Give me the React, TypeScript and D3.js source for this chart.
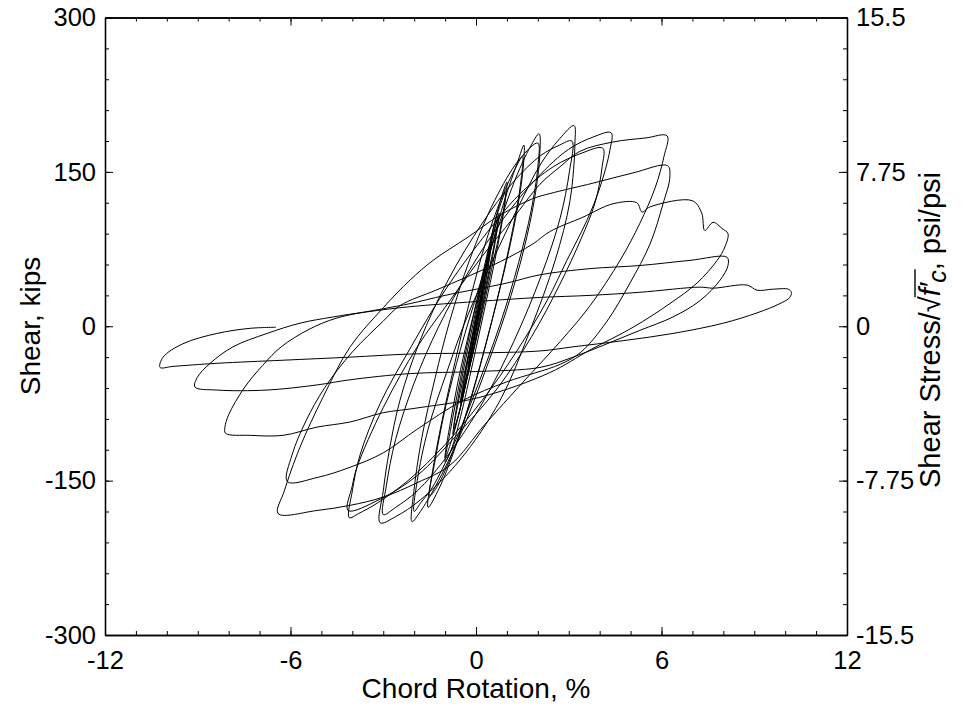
import React, { useEffect, useRef } from 'react';
import * as d3 from 'd3';

// Axis ticks / labels
const X_TICKS = [-12, -6, 0, 6, 12];
const Y_TICKS = [-300, -150, 0, 150, 300];
const Y2_TICKS = [-15.5, -7.75, 0, 7.75, 15.5];
const Y2_LABELS = ['-15.5', '-7.75', '0', '7.75', '15.5'];

// Hysteresis response, [chord rotation %, shear kips], by drift level (two cycles each)
const loop025 = [[0,0],[0.12,22],[0.27,45],[0.15,22],[0,0],[-0.12,-20],[-0.25,-40],[-0.12,-18],[0.02,3],[0.14,24],[0.26,43],[0.12,18],[-0.02,-4],[-0.14,-22],[-0.26,-40]];
const loop05 = [[-0.15,-18],[0,5],[0.2,35],[0.35,57],[0.5,80],[0.38,55],[0.18,22],[-0.02,-8],[-0.2,-35],[-0.36,-55],[-0.5,-75],[-0.35,-48],[-0.15,-15],[0.05,15],[0.25,45],[0.48,77],[0.32,47],[0.1,12],[-0.12,-22],[-0.32,-50],[-0.5,-73]];
const loop075 = [[-0.35,-45],[-0.1,-5],[0.15,35],[0.4,70],[0.6,95],[0.75,110],[0.62,85],[0.38,48],[0.1,5],[-0.2,-38],[-0.45,-72],[-0.62,-92],[-0.75,-105],[-0.58,-75],[-0.3,-35],[0,5],[0.3,50],[0.55,88],[0.72,105],[0.6,78],[0.32,35],[0.02,-10],[-0.3,-52],[-0.55,-85],[-0.72,-100]];
const loop10 = [[-0.55,-65],[-0.25,-20],[0.1,30],[0.45,80],[0.75,118],[1.0,140],[0.9,112],[0.65,70],[0.3,20],[-0.1,-35],[-0.5,-88],[-0.8,-120],[-1.0,-132],[-0.82,-100],[-0.5,-50],[-0.1,8],[0.3,62],[0.68,108],[0.95,130],[0.82,100],[0.5,55],[0.12,2],[-0.3,-52],[-0.7,-102],[-1.0,-128]];
const loop15 = [[-0.82,-92],[-0.5,-42],[-0.05,15],[0.45,72],[0.95,125],[1.35,160],[1.55,176],[1.52,152],[1.3,108],[0.9,52],[0.4,-8],[-0.15,-68],[-0.72,-122],[-1.2,-158],[-1.55,-176],[-1.4,-140],[-1.1,-92],[-0.68,-35],[-0.2,25],[0.35,85],[0.9,130],[1.3,155],[1.5,165],[1.44,138],[1.18,93],[0.78,38],[0.28,-22],[-0.28,-82],[-0.88,-132],[-1.28,-157],[-1.5,-165]];
const loop20 = [[-1.32,-130],[-0.98,-78],[-0.5,-22],[0.1,38],[0.7,95],[1.3,145],[1.75,174],[2.04,187],[2.06,165],[1.9,125],[1.55,75],[0.98,15],[0.28,-45],[-0.5,-105],[-1.3,-155],[-1.8,-180],[-2.07,-190],[-2.0,-158],[-1.75,-108],[-1.32,-50],[-0.85,5],[-0.2,65],[0.6,122],[1.4,162],[2.0,178],[2.0,155],[1.78,112],[1.38,62],[0.78,2],[0.05,-58],[-0.72,-115],[-1.42,-157],[-1.8,-172],[-2.0,-180]];
const loop30 = [[-1.9,-150],[-1.55,-100],[-0.95,-45],[-0.25,12],[0.6,68],[1.4,118],[2.1,158],[2.7,182],[3.17,195],[3.2,178],[3.04,122],[2.56,64],[1.75,-4],[0.78,-72],[-0.52,-130],[-1.81,-169],[-2.6,-185],[-3.1,-191],[-3.0,-160],[-2.8,-120],[-2.46,-72],[-1.81,-14],[-0.9,45],[0.2,100],[1.2,140],[2.1,166],[2.7,176],[3.1,180],[3.02,150],[2.72,105],[2.12,50],[1.22,-15],[0.2,-75],[-0.9,-125],[-1.9,-160],[-2.6,-176],[-3.0,-183]];
const loop40 = [[-2.9,-155],[-2.6,-110],[-2.0,-55],[-1.2,0],[-0.2,55],[0.9,105],[2.0,145],[3.0,172],[3.8,184],[4.37,188],[4.33,171],[4.01,135],[3.59,103],[2.94,64],[2.3,25],[1.3,-25],[0.2,-72],[-1.0,-115],[-2.2,-150],[-3.2,-172],[-3.8,-182],[-4.1,-186],[-4.0,-160],[-3.75,-125],[-3.1,-75],[-2.1,-20],[-1.0,35],[0.2,85],[1.4,128],[2.5,155],[3.4,168],[4.1,173],[4.08,155],[3.85,120],[3.4,85],[2.7,40],[1.8,-10],[0.7,-60],[-0.6,-105],[-1.9,-145],[-3.1,-168],[-4.14,-179]];
const loop60 = [[-4.0,-155],[-3.85,-137],[-3.0,-79],[-1.9,-20],[-0.84,25],[0.2,68],[1.2,105],[2.07,138],[2.72,155],[3.36,170],[4.43,179],[5.5,183],[6.18,185],[6.08,165],[5.8,135],[5.3,100],[4.66,64],[3.69,20],[2.72,-15],[1.5,-55],[0.3,-95],[-0.84,-135],[-1.9,-152],[-3.0,-166],[-4.07,-174],[-5.14,-179],[-6.4,-182],[-6.2,-160],[-5.7,-118],[-4.95,-69],[-4.07,-20],[-3.0,18],[-2.13,45],[-1.39,64],[-0.29,86],[0.78,108],[1.84,124],[2.4,129],[3.78,139],[5.08,149],[6.2,156],[6.27,145],[6.05,119],[5.63,80],[4.98,42],[4.24,5],[3.4,-25],[2.72,-37],[1.0,-54],[-0.42,-72],[-1.9,-100],[-3.0,-123],[-4.07,-137],[-5.14,-147],[-6.1,-151]];
const loop80 = [[-5.95,-125],[-5.5,-92],[-4.9,-60],[-4.0,-25],[-3.0,5],[-2.46,20],[-1.3,35],[-0.29,48],[0.8,63],[1.84,80],[2.39,92],[3.46,106],[4.43,119],[5.2,120],[5.37,111],[5.63,116],[7.0,122],[7.3,110],[7.4,93],[7.67,101],[7.96,95],[8.15,90],[8.05,77],[7.8,64],[7.15,42],[6.27,22],[5.08,-1],[3.69,-23],[2.39,-45],[0.13,-69],[-2.04,-80],[-3.0,-84],[-4.07,-93],[-5.14,-98],[-6.24,-106],[-7.3,-106],[-8.1,-104],[-8.12,-98],[-8.0,-86],[-7.5,-60],[-6.9,-38],[-6.3,-20],[-5.4,-3],[-4.5,8],[-3.0,17],[-2.13,22],[-1.0,30],[1.0,42],[2.07,50],[3.69,56],[5.3,59],[6.92,64],[8.12,67],[8.15,59],[7.9,45],[7.25,25],[6.37,9],[5.3,-4],[4.24,-17],[3.14,-30],[2.07,-40],[0,-44],[-2.13,-46],[-4.07,-52],[-5.14,-57],[-6.76,-62],[-8.38,-62],[-9.09,-59]];
const loop100 = [[-9.02,-50],[-8.6,-36],[-7.86,-20],[-6.76,-7],[-5.69,3],[-4.63,9],[-3.53,14],[-2.13,19],[0,24],[2.07,28],[3.69,30],[5.3,33],[7.25,38],[7.67,37],[8.77,40],[9.09,35],[9.6,36],[10.1,36],[10.2,33],[10.15,28],[9.83,22],[9.09,13],[8.0,3],[6.37,-7],[4.76,-14],[3.14,-20],[2.07,-24],[0,-26],[-2.13,-27],[-4.07,-30],[-6.24,-33],[-8.38,-36],[-9.8,-39],[-10.22,-40],[-10.12,-30],[-9.48,-17],[-8.38,-7],[-7.3,-2],[-6.47,-1]];

const CYCLES = [loop025, loop05, loop075, loop10, loop15, loop20, loop30, loop40, loop60, loop80, loop100];

const FONT = "'Liberation Sans', Arial, Helvetica, sans-serif";

export default function App() {
  const ref = useRef<SVGSVGElement>(null);

  useEffect(() => {
    const svg = d3.select(ref.current as SVGSVGElement);
    svg.selectAll('*').remove();

    const L = 105, R = 847, T = 17.5, B = 635;
    const x = d3.scaleLinear().domain([-12, 12]).range([L, R]);
    const y = d3.scaleLinear().domain([-300, 300]).range([B, T]);
    const y2 = d3.scaleLinear().domain([-15.5, 15.5]).range([B, T]);

    const pts = CYCLES.flat() as [number, number][];
    const line = d3.line<[number, number]>()
      .x(d => x(d[0]))
      .y(d => y(d[1]))
      .curve(d3.curveCatmullRom.alpha(0.5));

    svg.append('path')
      .attr('d', line(pts) || '')
      .attr('fill', 'none')
      .attr('stroke', '#000')
      .attr('stroke-width', 1)
      .attr('stroke-linejoin', 'round');

    const style = (g: any) => {
      g.select('.domain').attr('stroke', '#000').attr('stroke-width', 1.3);
      g.selectAll('.tick line').attr('stroke', '#000').attr('stroke-width', 1);
      g.selectAll('text').attr('font-family', FONT).attr('font-size', 25.5).attr('fill', '#000');
    };

    const minorX = d3.range(-12, 12.001, 1);
    const minorY = d3.range(-300, 300.001, 30);

    // bottom
    svg.append('g').attr('transform', `translate(0,${B})`)
      .call(d3.axisBottom(x).tickValues(minorX).tickSize(-4).tickSizeOuter(0).tickFormat(() => ''))
      .call(style);
    svg.append('g').attr('transform', `translate(0,${B})`)
      .call(d3.axisBottom(x).tickValues(X_TICKS).tickSize(-8).tickSizeOuter(0).tickPadding(16).tickFormat(d => String(d)))
      .call(style);
    // top
    svg.append('g').attr('transform', `translate(0,${T})`)
      .call(d3.axisTop(x).tickValues(minorX).tickSize(-4).tickSizeOuter(0).tickFormat(() => ''))
      .call(style);
    svg.append('g').attr('transform', `translate(0,${T})`)
      .call(d3.axisTop(x).tickValues(X_TICKS).tickSize(-8).tickSizeOuter(0).tickFormat(() => ''))
      .call(style);
    // left
    svg.append('g').attr('transform', `translate(${L},0)`)
      .call(d3.axisLeft(y).tickValues(minorY).tickSize(-4).tickSizeOuter(0).tickFormat(() => ''))
      .call(style);
    svg.append('g').attr('transform', `translate(${L},0)`)
      .call(d3.axisLeft(y).tickValues(Y_TICKS).tickSize(-8).tickSizeOuter(0).tickPadding(9).tickFormat(d => String(d)))
      .call(style);
    // right
    svg.append('g').attr('transform', `translate(${R},0)`)
      .call(d3.axisRight(y).tickValues(minorY).tickSize(-4).tickSizeOuter(0).tickFormat(() => ''))
      .call(style);
    svg.append('g').attr('transform', `translate(${R},0)`)
      .call(d3.axisRight(y2).tickValues(Y2_TICKS).tickSize(-8).tickSizeOuter(0).tickPadding(9)
        .tickFormat((d, i) => Y2_LABELS[i]))
      .call(style);

    // titles
    svg.append('text')
      .attr('x', (L + R) / 2).attr('y', 698)
      .attr('text-anchor', 'middle')
      .attr('font-family', FONT).attr('font-size', 28).attr('fill', '#000')
      .text('Chord Rotation, %');

    svg.append('g').attr('transform', 'translate(40,326) rotate(-90)')
      .append('text')
      .attr('text-anchor', 'middle')
      .attr('font-family', FONT).attr('font-size', 28).attr('fill', '#000')
      .text('Shear, kips');

    const g2 = svg.append('g').attr('transform', 'translate(940,330) rotate(-90)');
    const t = g2.append('text')
      .attr('text-anchor', 'middle')
      .attr('font-family', FONT).attr('font-size', 29).attr('fill', '#000');
    t.append('tspan').text('Shear Stress/\u221A');
    t.append('tspan').attr('font-style', 'italic').text('f');
    t.append('tspan').attr('font-style', 'italic').text('\u2032');
    t.append('tspan').attr('font-style', 'italic').attr('font-size', 25).attr('dy', 6).text('c');
    t.append('tspan').attr('dy', -6).text(', psi/psi');
    const el = t.node() as SVGTextElement;
    try {
      const a = el.getExtentOfChar(13);
      const b = el.getExtentOfChar(16);
      const oy = -25;
      g2.append('line')
        .attr('x1', a.x + a.width - 1).attr('x2', b.x + b.width + 1)
        .attr('y1', oy).attr('y2', oy)
        .attr('stroke', '#000').attr('stroke-width', 1.4);
    } catch (e) {}
  }, []);

  return (
    <div style={{ position: 'absolute', left: 0, top: 0 }}>
      <svg ref={ref} width={967} height={714} style={{ display: 'block', background: '#fff' }} />
    </div>
  );
}
